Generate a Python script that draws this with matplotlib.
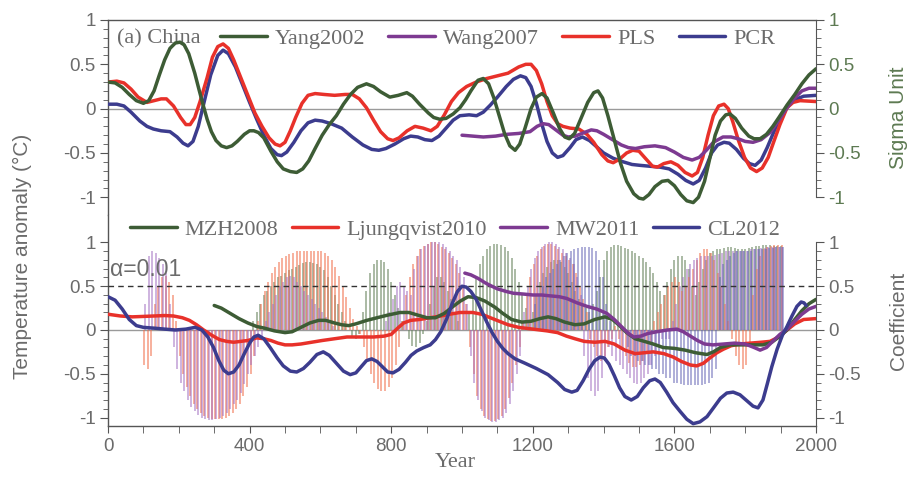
import matplotlib
matplotlib.use("Agg")
import matplotlib.pyplot as plt
from matplotlib.ticker import MultipleLocator, FixedLocator
import numpy as np

# ---------- top panel: temperature anomaly / sigma unit ----------
yang_x = [0, 20, 40, 60, 80, 100, 115, 130, 145, 160, 175, 190, 203, 215, 228, 245, 258, 268, 280, 292, 305,
          320, 335, 350, 365, 385, 400, 412, 425, 440, 460, 478, 495, 515, 533, 550, 567, 585, 605, 625, 645,
          665, 685, 705, 730, 750, 770, 796, 820, 844, 860, 880, 905, 920, 937, 955, 975, 994, 1010, 1025, 1045,
          1060, 1075, 1090, 1105, 1120, 1135, 1150, 1163, 1178, 1195, 1210, 1226, 1240, 1258, 1275, 1290, 1303,
          1318, 1335, 1355, 1372, 1384, 1397, 1412, 1430, 1448, 1465, 1485, 1500, 1512, 1528, 1545, 1565, 1582,
          1600, 1618, 1635, 1653, 1668, 1685, 1700, 1715, 1730, 1745, 1757, 1772, 1790, 1810, 1825, 1842, 1860,
          1878, 1895, 1918, 1940, 1960, 1980, 2000]
yang_y = [0.30, 0.29, 0.24, 0.16, 0.09, 0.06, 0.09, 0.20, 0.38, 0.55, 0.68, 0.74, 0.75, 0.72, 0.62, 0.40, 0.20,
          0.05, -0.12, -0.26, -0.36, -0.42, -0.44, -0.42, -0.37, -0.29, -0.25, -0.25, -0.27, -0.33, -0.48, -0.60,
          -0.68, -0.71, -0.72, -0.68, -0.59, -0.45, -0.30, -0.18, -0.08, 0.05, 0.16, 0.24, 0.28, 0.25, 0.19, 0.13,
          0.15, 0.18, 0.14, 0.05, -0.05, -0.10, -0.12, -0.11, -0.06, 0.01, 0.10, 0.20, 0.32, 0.34, 0.28, 0.12,
          -0.08, -0.28, -0.42, -0.47, -0.40, -0.22, 0.00, 0.13, 0.17, 0.12, -0.05, -0.22, -0.32, -0.34, -0.28,
          -0.12, 0.07, 0.18, 0.20, 0.12, -0.08, -0.35, -0.62, -0.82, -0.96, -1.01, -1.02, -0.97, -0.88, -0.82,
          -0.81, -0.87, -0.97, -1.04, -1.06, -1.00, -0.82, -0.56, -0.30, -0.14, -0.07, -0.06, -0.11, -0.22, -0.31,
          -0.34, -0.34, -0.29, -0.20, -0.10, 0.04, 0.16, 0.28, 0.38, 0.45]

wang_x = [1000, 1030, 1060, 1095, 1126, 1160, 1192, 1212, 1229, 1245, 1265, 1285, 1300, 1320, 1345, 1365, 1381,
          1400, 1425, 1450, 1470, 1490, 1515, 1545, 1575, 1600, 1625, 1650, 1670, 1690, 1710, 1737, 1760, 1780,
          1800, 1822, 1845, 1870, 1895, 1918, 1940, 1960, 1980, 2000]
wang_y = [-0.30, -0.31, -0.32, -0.31, -0.29, -0.28, -0.26, -0.20, -0.17, -0.18, -0.24, -0.30, -0.32, -0.31,
          -0.27, -0.24, -0.25, -0.29, -0.35, -0.41, -0.44, -0.45, -0.43, -0.42, -0.44, -0.49, -0.55, -0.58, -0.55,
          -0.47, -0.38, -0.32, -0.32, -0.34, -0.37, -0.38, -0.35, -0.27, -0.13, 0.01, 0.12, 0.20, 0.23, 0.23]

pls_x = [0, 25, 45, 65, 85, 110, 130, 150, 165, 185, 205, 220, 232, 245, 260, 280, 295, 310, 325, 340, 355, 375,
         395, 415, 435, 455, 472, 486, 500, 515, 530, 548, 565, 585, 610, 640, 670, 690, 710, 730, 750, 770, 790,
         805, 822, 845, 867, 890, 912, 930, 950, 970, 990, 1013, 1040, 1070, 1100, 1130, 1160, 1180, 1195, 1210,
         1225, 1240, 1255, 1270, 1285, 1305, 1330, 1353, 1372, 1395, 1412, 1427, 1445, 1465, 1482, 1500, 1520,
         1538, 1552, 1570, 1590, 1610, 1630, 1650, 1665, 1680, 1695, 1710, 1725, 1740, 1752, 1765, 1780, 1798,
         1815, 1832, 1848, 1865, 1880, 1898, 1918, 1935, 1955, 2000]
pls_y = [0.30, 0.31, 0.29, 0.22, 0.13, 0.07, 0.09, 0.11, 0.11, 0.03, -0.10, -0.18, -0.18, -0.10, 0.08, 0.35,
         0.58, 0.70, 0.73, 0.68, 0.55, 0.35, 0.15, -0.05, -0.20, -0.33, -0.40, -0.42, -0.38, -0.25, -0.10, 0.06,
         0.15, 0.17, 0.16, 0.15, 0.16, 0.16, 0.11, 0.01, -0.13, -0.26, -0.34, -0.36, -0.33, -0.25, -0.20, -0.22,
         -0.25, -0.20, -0.07, 0.08, 0.18, 0.25, 0.30, 0.34, 0.37, 0.40, 0.47, 0.50, 0.50, 0.43, 0.28, 0.08, -0.08,
         -0.17, -0.20, -0.22, -0.23, -0.29, -0.38, -0.52, -0.59, -0.61, -0.57, -0.50, -0.47, -0.48, -0.57, -0.65,
         -0.66, -0.62, -0.60, -0.64, -0.72, -0.76, -0.72, -0.55, -0.30, -0.08, 0.03, 0.05, 0.00, -0.15, -0.35,
         -0.55, -0.67, -0.71, -0.67, -0.55, -0.38, -0.18, 0.01, 0.07, 0.09, 0.08]

pcr_x = [0, 25, 45, 65, 90, 110, 128, 150, 175, 195, 212, 226, 240, 255, 270, 290, 310, 325, 340, 360, 380, 400,
         420, 440, 460, 478, 490, 505, 525, 545, 565, 585, 605, 630, 660, 690, 720, 745, 765, 785, 810, 835, 855,
         875, 895, 915, 935, 955, 975, 994, 1020, 1041, 1060, 1080, 1100, 1125, 1145, 1165, 1180, 1195, 1210,
         1225, 1240, 1255, 1270, 1285, 1305, 1322, 1340, 1360, 1380, 1400, 1427, 1455, 1480, 1503, 1530, 1559,
         1585, 1610, 1632, 1653, 1670, 1688, 1705, 1722, 1740, 1755, 1775, 1795, 1812, 1828, 1845, 1862, 1880,
         1898, 1918, 1940, 1965, 2000]
pcr_y = [0.05, 0.05, 0.03, -0.04, -0.14, -0.20, -0.23, -0.25, -0.26, -0.32, -0.39, -0.42, -0.37, -0.20, 0.05,
         0.38, 0.60, 0.66, 0.62, 0.47, 0.27, 0.07, -0.12, -0.30, -0.45, -0.52, -0.53, -0.49, -0.38, -0.25, -0.16,
         -0.13, -0.14, -0.17, -0.22, -0.32, -0.41, -0.46, -0.47, -0.45, -0.40, -0.34, -0.31, -0.32, -0.35, -0.36,
         -0.31, -0.22, -0.13, -0.08, -0.07, -0.08, -0.04, 0.04, 0.13, 0.25, 0.33, 0.37, 0.35, 0.25, 0.06, -0.17,
         -0.37, -0.50, -0.55, -0.53, -0.44, -0.35, -0.32, -0.36, -0.43, -0.50, -0.56, -0.60, -0.63, -0.64, -0.65,
         -0.66, -0.68, -0.74, -0.81, -0.85, -0.81, -0.67, -0.50, -0.41, -0.38, -0.39, -0.46, -0.56, -0.62, -0.64,
         -0.58, -0.44, -0.27, -0.11, 0.02, 0.10, 0.14, 0.15]

# ---------- bottom panel: coefficient curves ----------
cl_x = [0, 20, 40, 60, 80, 100, 133, 160, 190, 220, 246, 265, 282, 298, 313, 327, 340, 355, 370, 385, 400, 412,
        424, 440, 458, 478, 495, 515, 533, 552, 570, 590, 608, 625, 645, 665, 684, 700, 715, 730, 745, 760, 775,
        790, 805, 822, 840, 856, 872, 892, 910, 925, 940, 957, 972, 987, 1000, 1012, 1025, 1040, 1055, 1070,
        1085, 1100, 1115, 1130, 1150, 1178, 1210, 1243, 1270, 1290, 1310, 1325, 1342, 1360, 1375, 1390, 1402,
        1415, 1430, 1445, 1460, 1478, 1495, 1512, 1530, 1545, 1560, 1578, 1596, 1616, 1635, 1653, 1672, 1692,
        1712, 1730, 1748, 1766, 1785, 1805, 1822, 1836, 1850, 1862, 1875, 1890, 1905, 1918, 1932, 1946, 1958,
        1966, 1972]
cl_y = [0.38, 0.34, 0.24, 0.12, 0.05, 0.03, 0.02, 0.01, 0.00, 0.01, 0.03, 0.00, -0.08, -0.20, -0.35, -0.46,
        -0.50, -0.48, -0.40, -0.27, -0.15, -0.08, -0.06, -0.10, -0.20, -0.32, -0.41, -0.47, -0.48, -0.44, -0.37,
        -0.28, -0.25, -0.29, -0.38, -0.47, -0.51, -0.49, -0.42, -0.35, -0.33, -0.36, -0.42, -0.48, -0.49, -0.45,
        -0.37, -0.29, -0.24, -0.20, -0.17, -0.11, -0.02, 0.13, 0.30, 0.44, 0.50, 0.49, 0.44, 0.35, 0.22, 0.09,
        -0.03, -0.13, -0.21, -0.27, -0.33, -0.38, -0.44, -0.51, -0.60, -0.68, -0.71, -0.69, -0.58, -0.44, -0.35,
        -0.31, -0.32, -0.39, -0.52, -0.66, -0.76, -0.80, -0.76, -0.66, -0.58, -0.56, -0.60, -0.71, -0.83, -0.93,
        -1.02, -1.07, -1.05, -0.99, -0.88, -0.78, -0.72, -0.71, -0.74, -0.81, -0.87, -0.89, -0.80, -0.62, -0.42,
        -0.22, -0.06, 0.04, 0.16, 0.27, 0.32, 0.31, 0.28]

mzh_x = [300, 320, 345, 370, 395, 420, 443, 470, 500, 520, 545, 570, 595, 615, 640, 660, 680, 700, 731, 760, 790,
         825, 850, 875, 901, 925, 950, 975, 995, 1017, 1040, 1065, 1093, 1115, 1140, 1169, 1195, 1220, 1243, 1265,
         1290, 1319, 1345, 1375, 1404, 1425, 1445, 1465, 1489, 1515, 1540, 1568, 1600, 1630, 1660, 1692, 1710,
         1730, 1757, 1800, 1850, 1875, 1895, 1918, 1940, 1960, 1980, 2000]
mzh_y = [0.28, 0.25, 0.19, 0.13, 0.08, 0.04, 0.02, -0.01, -0.03, -0.02, 0.03, 0.08, 0.11, 0.11, 0.08, 0.06, 0.05,
         0.07, 0.11, 0.14, 0.17, 0.20, 0.20, 0.17, 0.14, 0.14, 0.19, 0.27, 0.33, 0.38, 0.37, 0.33, 0.26, 0.19,
         0.12, 0.09, 0.10, 0.13, 0.15, 0.13, 0.09, 0.06, 0.07, 0.12, 0.15, 0.12, 0.05, -0.03, -0.10, -0.13, -0.16,
         -0.20, -0.21, -0.23, -0.26, -0.28, -0.25, -0.20, -0.17, -0.17, -0.17, -0.14, -0.08, 0.00, 0.12, 0.22,
         0.30, 0.35]

lj_x = [0, 35, 68, 100, 130, 160, 185, 210, 230, 250, 270, 293, 315, 335, 355, 375, 395, 420, 440, 460, 480, 500,
        520, 545, 575, 605, 640, 675, 710, 750, 780, 800, 818, 835, 855, 880, 910, 940, 965, 994, 1030, 1055,
        1080, 1105, 1130, 1160, 1200, 1240, 1270, 1295, 1319, 1345, 1375, 1404, 1430, 1460, 1489, 1515, 1540,
        1570, 1597, 1620, 1645, 1663, 1682, 1700, 1720, 1738, 1760, 1785, 1814, 1845, 1870, 1895, 1918, 1940,
        1965, 2000]
lj_y = [0.18, 0.16, 0.15, 0.155, 0.16, 0.165, 0.16, 0.14, 0.11, 0.06, 0.00, -0.06, -0.11, -0.13, -0.14, -0.13,
        -0.12, -0.09, -0.10, -0.12, -0.15, -0.17, -0.17, -0.16, -0.14, -0.12, -0.10, -0.08, -0.08, -0.08, -0.07,
        -0.05, 0.02, 0.08, 0.11, 0.12, 0.14, 0.16, 0.18, 0.20, 0.20, 0.18, 0.14, 0.10, 0.06, 0.03, 0.01, -0.01,
        -0.03, -0.07, -0.10, -0.13, -0.14, -0.13, -0.16, -0.23, -0.27, -0.26, -0.25, -0.27, -0.31, -0.36, -0.40,
        -0.41, -0.38, -0.32, -0.26, -0.22, -0.18, -0.16, -0.15, -0.14, -0.13, -0.08, 0.00, 0.07, 0.12, 0.13]

mw_x = [1008, 1025, 1045, 1065, 1079, 1100, 1125, 1145, 1175, 1200, 1225, 1249, 1275, 1296, 1325, 1353, 1380,
        1409, 1430, 1450, 1470, 1485, 1505, 1525, 1550, 1580, 1607, 1625, 1645, 1665, 1685, 1709, 1740, 1770,
        1800, 1825, 1842, 1860, 1880, 1898, 1918, 1940, 1960, 1980, 2000]
mw_y = [0.65, 0.63, 0.59, 0.54, 0.51, 0.47, 0.44, 0.42, 0.41, 0.40, 0.40, 0.39, 0.38, 0.36, 0.31, 0.27, 0.24,
        0.19, 0.12, 0.04, -0.04, -0.08, -0.07, -0.04, -0.02, 0.00, 0.01, -0.02, -0.07, -0.12, -0.16, -0.17,
        -0.16, -0.15, -0.16, -0.20, -0.23, -0.20, -0.12, -0.05, 0.01, 0.10, 0.18, 0.24, 0.27]

# ---------- bottom panel: running correlation bars, one value per decade 100..1900 ----------
bar_years = list(range(100, 1901, 10))
mzh_bar = [0, 0, 0, 0, 0, 0, 0, 0, 0, 0,
           0, 0, 0, 0, 0, 0, 0, 0, 0, 0,
           0, 0, 0, 0, 0, 0, 0, 0, 0, 0,
           0, 0.1, 0.2, 0.3, 0.4, 0.45, 0.5, 0.55, 0.6, 0.62,
           0.65, 0.68, 0.7, 0.72, 0.74, 0.76, 0.78, 0.78, 0.77, 0.75,
           0.72, 0.68, 0.6, 0.5, 0.4, 0.3, 0.2, 0.1, 0, -0.08,
           -0.1, -0.05, 0.2, 0.45, 0.65, 0.75, 0.8, 0.8, 0.78, 0.7,
           0.55, 0.4, 0.25, 0.1, 0, -0.1, -0.18, -0.2, -0.15, -0.05,
           0.1, 0.3, 0.5, 0.6, 0.6, 0.55, 0.45, 0.35, 0.2, 0.1,
           0, 0, 0.2, 0.4, 0.6, 0.75, 0.85, 0.92, 0.96, 0.98,
           0.98, 0.97, 0.95, 0.9, 0.82, 0.7, 0.55, 0.4, 0.25, 0.1,
           0.2, 0.4, 0.55, 0.65, 0.72, 0.78, 0.8, 0.8, 0.78, 0.72,
           0.65, 0.55, 0.45, 0.35, 0.3, 0.25, 0.2, 0.3, 0.45, 0.6,
           0.8, 0.9, 0.95, 0.97, 0.97, 0.96, 0.94, 0.92, 0.9, 0.88,
           0.85, 0.82, 0.78, 0.72, 0.65, 0.55, 0.45, 0.4, 0.55, 0.7,
           0.8, 0.85, 0.85, 0.8, 0.7, 0.5, 0.4, 0.55, 0.7, 0.8,
           0.88, 0.9, 0.92, 0.93, 0.94, 0.95, 0.95, 0.94, 0.93, 0.92,
           0.93, 0.94, 0.95, 0.96, 0.96, 0.97, 0.97, 0.97, 0.96, 0.96,
           0.96]
lj_bar = [-0.4, -0.45, -0.3, 0.3, 0.5, 0.6, 0.62, 0.55, 0.4, 0.1,
          -0.3, -0.5, -0.65, -0.75, -0.85, -0.9, -0.95, -0.98, -1.0, -1.02,
          -1.02, -1.02, -1.02, -1.0, -0.98, -0.95, -0.9, -0.85, -0.75, -0.65,
          -0.5, -0.3, 0.1, 0.3, 0.45, 0.55, 0.65, 0.72, 0.78, 0.82,
          0.85, 0.87, 0.88, 0.9, 0.9, 0.9, 0.9, 0.9, 0.9, 0.9,
          0.9, 0.88, 0.85, 0.8, 0.72, 0.62, 0.5, 0.38, 0.25, 0.12,
          0.05, -0.05, -0.2, -0.35, -0.5, -0.6, -0.67, -0.7, -0.7, -0.65,
          -0.55, -0.4, -0.2, 0.1, 0.4, 0.6, 0.75, 0.85, 0.92, 0.96,
          0.98, 1.0, 1.0, 0.98, 0.95, 0.92, 0.88, 0.82, 0.75, 0.65,
          0.5, 0.3, -0.2, -0.5, -0.75, -0.9, -0.98, -1.02, -1.04, -1.04,
          -1.02, -0.98, -0.9, -0.78, -0.6, -0.4, -0.2, 0.1, 0.4, 0.6,
          0.75, 0.85, 0.92, 0.96, 0.98, 0.98, 0.96, 0.92, 0.88, 0.85,
          0.8, 0.75, 0.65, 0.5, 0.35, 0.2, -0.1, -0.2, -0.3, -0.35,
          -0.3, -0.2, -0.1, 0.05, -0.1, -0.2, -0.3, -0.38, -0.42, -0.42,
          -0.4, -0.35, -0.25, -0.15, 0.1, 0.2, 0.3, 0.4, 0.5, 0.55,
          0.6, 0.55, 0.45, 0.5, 0.6, 0.7, 0.8, 0.88, 0.92, 0.92,
          0.88, 0.8, 0.65, 0.5, 0.3, 0.1, -0.1, -0.3, -0.4, -0.45,
          -0.4, -0.2, 0.4, 0.7, 0.85, 0.92, 0.95, 0.96, 0.97, 0.97,
          0.97]
mw_bar = [0.3, 0.85, 0.9, 0.88, 0.82, 0.75, 0.65, 0.3, -0.2, -0.45,
          -0.6, -0.7, -0.8, -0.88, -0.93, -0.97, -1.0, -1.02, -1.03, -1.03,
          -1.02, -1.0, -0.98, -0.95, -0.9, -0.85, -0.8, -0.72, -0.62, -0.5,
          -0.4, -0.3, -0.2, -0.1, 0.1, 0.2, 0.3, 0.4, 0.5, 0.55,
          0.6, 0.62, 0.6, 0.55, 0.5, 0.45, 0.4, 0.35, 0.3, 0.25,
          0.2, 0.15, 0.1, 0.05, 0, 0, 0, 0, 0, 0,
          0, 0, 0, 0, 0, 0, 0, 0, 0.1, 0.2,
          0.35, 0.5, 0.55, 0.5, 0.45, 0.4, 0.7, 0.85, 0.92, 0.96,
          0.98, 1.0, 1.0, 1.0, 0.98, 0.95, 0.9, 0.85, 0.8, 0.72,
          0.6, 0.3, -0.3, -0.6, -0.8, -0.92, -1.0, -1.03, -1.05, -1.05,
          -1.03, -1.0, -0.95, -0.85, -0.7, -0.5, -0.3, 0.2, 0.5, 0.7,
          0.82, 0.9, 0.95, 0.98, 1.0, 1.0, 0.98, 0.95, 0.92, 0.88,
          0.82, 0.75, 0.6, 0.4, -0.3, -0.55, -0.7, -0.75, -0.7, -0.55,
          -0.35, -0.2, -0.3, -0.35, -0.4, -0.45, -0.5, -0.55, -0.6, -0.62,
          -0.6, -0.55, -0.5, -0.4, -0.3, -0.2, -0.1, -0.1, -0.1, 0.1,
          0.3, 0.5, 0.6, 0.7, 0.75, 0.8, 0.82, 0.85, 0.85, 0.85,
          0.85, 0.86, 0.87, 0.88, 0.9, 0.9, 0.9, 0.9, 0.9, 0.9,
          0.9, 0.92, 0.92, 0.93, 0.94, 0.94, 0.95, 0.95, 0.95, 0.95,
          0.95]
cl_bar = [0, 0, 0, 0, 0, 0, 0, 0, 0, 0,
          0, 0, 0, 0, 0, 0, 0, 0, 0, 0,
          0, 0, 0, 0, 0, 0, 0, 0, 0, 0,
          0, 0, 0, 0, 0, 0, 0, 0, 0, 0,
          0, 0, 0, 0, 0, 0, 0, 0, 0, 0,
          0, 0, 0, 0, 0, 0, 0, 0, 0, 0,
          0, 0, 0, 0, 0, 0, 0, 0, 0, 0,
          0, 0, 0, 0, 0, 0, 0, 0, 0, 0,
          0, 0, 0, 0, 0, 0, 0, 0, 0, 0,
          0, 0, 0, 0, 0, 0, 0, 0, 0, 0,
          0, 0, 0, 0, 0, 0, 0, 0, 0, 0,
          0.3, 0.4, 0.5, 0.6, 0.65, 0.7, 0.75, 0.8, 0.85, 0.88,
          0.9, 0.92, 0.94, 0.95, 0.95, 0.95, 0.94, 0.9, 0.8, 0.6,
          0.3, 0.1, 0, 0, 0, 0, -0.2, -0.3, -0.3, -0.35,
          -0.35, -0.4, -0.4, -0.45, -0.45, -0.5, -0.5, -0.55, -0.55, -0.6,
          -0.6, -0.62, -0.63, -0.63, -0.63, -0.63, -0.63, -0.63, -0.62, -0.6,
          -0.55, -0.45, 0.6, 0.75, 0.8, 0.85, 0.88, 0.9, 0.9, 0.9,
          0.9, 0.9, 0.92, 0.92, 0.93, 0.93, 0.94, 0.94, 0.95, 0.95,
          0.95]

GREEN = "#3d5c35"
RED = "#e8312a"
PURPLE = "#7d3a91"
BLUE = "#3c3c8e"
GRAY = "#6b6b6b"
SIGMA = "#5d7a52"
SANS = "Liberation Sans"
SERIF = "Liberation Serif"
LW = 2.5

fig = plt.figure(figsize=(9.17, 4.83), dpi=100)
ax1 = fig.add_axes([0.1178, 0.5549, 0.7721, 0.4037])
ax2 = fig.add_axes([0.1178, 0.118, 0.7721, 0.4369])

for ax in (ax1, ax2):
    ax.set_xlim(0, 2000)
    ax.axhline(0, color="#9a9a9a", lw=1.0, zorder=1)
    for s in ax.spines.values():
        s.set_color("#555555")
        s.set_linewidth(1.0)
    ax.spines["right"].set_visible(False)
    ax.yaxis.set_major_locator(FixedLocator([-1, -0.5, 0, 0.5, 1]))
    ax.yaxis.set_minor_locator(FixedLocator(np.arange(-1.0, 1.01, 0.1)))
    ax.tick_params(axis="y", which="major", direction="out", length=6, color="#555555",
                   labelsize=13.5, labelcolor=GRAY, pad=3)
    ax.tick_params(axis="y", which="minor", direction="out", length=3.5, color="#555555")
    ax.set_yticklabels(["-1", "-0.5", "0", "0.5", "1"], fontfamily=SANS)

ax1.set_ylim(-1.2, 1.0)
ax2.set_ylim(-1.097, 1.314)
ax1.spines["bottom"].set_visible(False)
ax2.spines["top"].set_visible(False)
ax1.set_xticks([])

# top curves
kw = dict(lw=LW, solid_joinstyle="round", solid_capstyle="round")
ax1.plot(pcr_x, pcr_y, color=BLUE, label="PCR", zorder=3, **kw)
ax1.plot(pls_x, pls_y, color=RED, label="PLS", zorder=4, **kw)
ax1.plot(wang_x, wang_y, color=PURPLE, label="Wang2007", zorder=5, **kw)
ax1.plot(yang_x, yang_y, color=GREEN, label="Yang2002", zorder=6, **kw)

h, l = ax1.get_legend_handles_labels()
order = [l.index(n) for n in ["Yang2002", "Wang2007", "PLS", "PCR"]]
leg1 = ax1.legend([h[i] for i in order], [l[i] for i in order], ncol=4, frameon=False,
                  loc="center left", bbox_to_anchor=(0.158, 0.905), handlelength=2.1,
                  handletextpad=0.36, columnspacing=1.05, borderaxespad=0, borderpad=0,
                  prop={"family": SERIF, "size": 16})
for t in leg1.get_texts():
    t.set_color(GRAY)
ax1.text(0.012, 0.905, "(a) China", transform=ax1.transAxes, va="center", ha="left",
         family=SERIF, fontsize=16, color=GRAY)

# bottom bars
yrs = np.array(bar_years)
ax2.vlines(yrs + 0, 0, mzh_bar, color="#6f8a66", lw=1.1, alpha=0.75, zorder=2)
ax2.vlines(yrs + 2.5, 0, lj_bar, color="#f2714f", lw=1.1, alpha=0.7, zorder=2)
ax2.vlines(yrs + 5, 0, mw_bar, color="#a06cc0", lw=1.1, alpha=0.65, zorder=2)
ax2.vlines(yrs + 7.5, 0, cl_bar, color="#6262b4", lw=1.1, alpha=0.65, zorder=2)

ax2.axhline(0.5, color="#333333", lw=1.0, ls=(0, (4, 3)), zorder=3)
ax2.text(5, 0.69, "α=0.01", fontsize=16.5, color=GRAY, family=SANS, va="center", ha="left", zorder=7)

ax2.plot(lj_x, lj_y, color=RED, label="Ljungqvist2010", zorder=4, **kw)
ax2.plot(mzh_x, mzh_y, color=GREEN, label="MZH2008", zorder=5, **kw)
ax2.plot(mw_x, mw_y, color=PURPLE, label="MW2011", zorder=5, **kw)
ax2.plot(cl_x, cl_y, color=BLUE, label="CL2012", zorder=6, **kw)

h, l = ax2.get_legend_handles_labels()
order = [l.index(n) for n in ["MZH2008", "Ljungqvist2010", "MW2011", "CL2012"]]
leg2 = ax2.legend([h[i] for i in order], [l[i] for i in order], ncol=4, frameon=False,
                  loc="center left", bbox_to_anchor=(0.031, 0.93), handlelength=2.1,
                  handletextpad=0.36, columnspacing=0.6, borderaxespad=0, borderpad=0,
                  prop={"family": SERIF, "size": 16})
for t in leg2.get_texts():
    t.set_color(GRAY)

ax2.xaxis.set_major_locator(MultipleLocator(400))
ax2.xaxis.set_minor_locator(MultipleLocator(100))
ax2.tick_params(axis="x", which="both", direction="out", length=5, color="#555555",
                labelsize=13.5, labelcolor=GRAY)
for t in ax2.get_xticklabels():
    t.set_fontfamily(SANS)
ax2.set_xlabel("Year", family=SERIF, fontsize=16, color=GRAY, labelpad=0)
ax2.xaxis.set_label_coords(0.49, -0.13)

# right axes
for ax, col, lab, lo in ((ax1, SIGMA, "Sigma Unit", -1.0), (ax2, GRAY, "Coefficient", -1.097)):
    r = ax.twinx()
    r.set_ylim(ax.get_ylim())
    for side in ("left", "top", "bottom"):
        r.spines[side].set_visible(False)
    r.spines["right"].set_color("#555555")
    r.spines["right"].set_bounds(lo, 1.0)
    r.yaxis.set_major_locator(FixedLocator([-1, -0.5, 0, 0.5, 1]))
    r.yaxis.set_minor_locator(FixedLocator(np.arange(-1.0, 1.01, 0.1)))
    r.tick_params(axis="y", which="major", direction="out", length=6, color="#555555",
                  labelsize=13.5, labelcolor=col, pad=3)
    r.tick_params(axis="y", which="minor", direction="out", length=3.5, color="#555555")
    r.set_yticklabels(["-1", "-0.5", "0", "0.5", "1"], fontfamily=SANS)
    r.set_ylabel(lab, color=col, family=SANS, fontsize=15, labelpad=20)

fig.text(0.024, 0.47, "Temperature anomaly (°C)", rotation=90, va="center", ha="center",
         family=SANS, fontsize=15, color=GRAY)

fig.savefig("out.png", dpi=100)
